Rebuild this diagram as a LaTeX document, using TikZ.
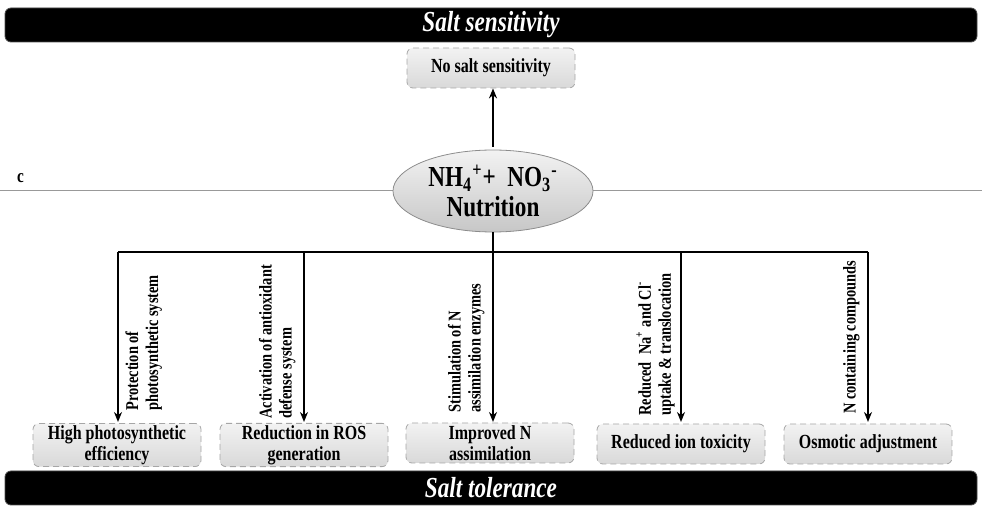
\documentclass[tikz,border=0pt]{standalone}
\usepackage{fontspec}
\setmainfont{Liberation Serif}[FakeStretch=0.8]
\usetikzlibrary{shapes.geometric,arrows.meta}
\begin{document}
\begin{tikzpicture}[x=0.5pt,y=-0.5pt,
  bar/.style={draw=black!70,fill=black,rounded corners=3pt,text=white,inner sep=0pt,font=\bfseries\itshape\fontsize{14.5}{15}\selectfont},
  gbox/.style={draw=black!35,densely dashed,rounded corners=3pt,top color=black!5,bottom color=black!15,
    minimum width=84pt,minimum height=20pt,inner sep=1pt,align=center,font=\bfseries\fontsize{10}{10.5}\selectfont},
  conn/.style={line width=1pt,-{Stealth[length=5pt,width=4pt]}},
  lbl/.style={rotate=90,anchor=south west,align=left,inner sep=1pt,font=\bfseries\fontsize{9}{10}\selectfont},
  lblr/.style={rotate=90,anchor=north west,align=left,inner sep=1pt,font=\bfseries\fontsize{9}{10}\selectfont}]
\useasboundingbox (0,0) rectangle (982,508);
% thin horizontal line
\coordinate (hl) at (0,190);
\coordinate (hr) at (982,190);
\draw[black!40,line width=0.4pt] (hl) -- (hr);
\node[font=\bfseries\fontsize{9.5}{10}\selectfont,anchor=west] (c) at (10,178) {c};
% bars
\node[bar,minimum width=486pt,minimum height=17pt] (top) at (491,25) {Salt sensitivity};
\node[bar,minimum width=486pt,minimum height=17pt] (bot) at (491,488) {Salt tolerance};
% ellipse
\node[ellipse,draw=black!45,top color=black!5,bottom color=black!22,minimum width=100pt,minimum height=41pt,inner sep=0pt,align=center,font=\bfseries\fontsize{14.5}{15}\selectfont] (nut) at (493,191) {NH\textsubscript{4}\textsuperscript{+}+\ \ NO\textsubscript{3}\textsuperscript{-}\\Nutrition};
% top box
\node[gbox] (nss) at (491,68) {No salt sensitivity};
\coordinate (ns) at (493,147);
\draw[conn] (ns) -- (nss.south -| ns);
% bottom boxes
\node[gbox] (b1) at (117,445) {High photosynthetic\\efficiency};
\node[gbox] (b2) at (304,445) {Reduction in ROS\\generation};
\node[gbox] (b3) at (490,443) {Improved N\\assimilation};
\node[gbox] (b4) at (681,444) {Reduced ion toxicity};
\node[gbox] (b5) at (868,444) {Osmotic adjustment};
% tree
\coordinate (j) at (493,252);
\coordinate (j1) at (118,252);
\coordinate (j2) at (304,252);
\coordinate (j4) at (681,252);
\coordinate (j5) at (868,252);
\draw[line width=1pt] (nut.south) -- (j);
\draw[line width=1pt] (j1) -- (j5);
\draw[conn] (j1) -- (118,422) coordinate (e1);
\draw[conn] (j2) -- (304,422) coordinate (e2);
\draw[conn] (j) -- (493,422) coordinate (e3);
\draw[conn] (j4) -- (681,422) coordinate (e4);
\draw[conn] (j5) -- (868,422) coordinate (e5);
% labels
\node[lblr] (l1) at (123,413) {Protection of\\photosynthetic system};
\node[lbl] (l2) at (298,421) {Activation of antioxidant\\defense system};
\node[lbl] (l3) at (487,415) {Stimulation of N\\assimilation enzymes};
\node[lbl] (l4) at (677,418) {Reduced\ \ Na\textsuperscript{+} and Cl\textsuperscript{-}\\uptake \& translocation};
\node[lbl] (l5) at (862,416) {N containing compounds};
\end{tikzpicture}
\end{document}
